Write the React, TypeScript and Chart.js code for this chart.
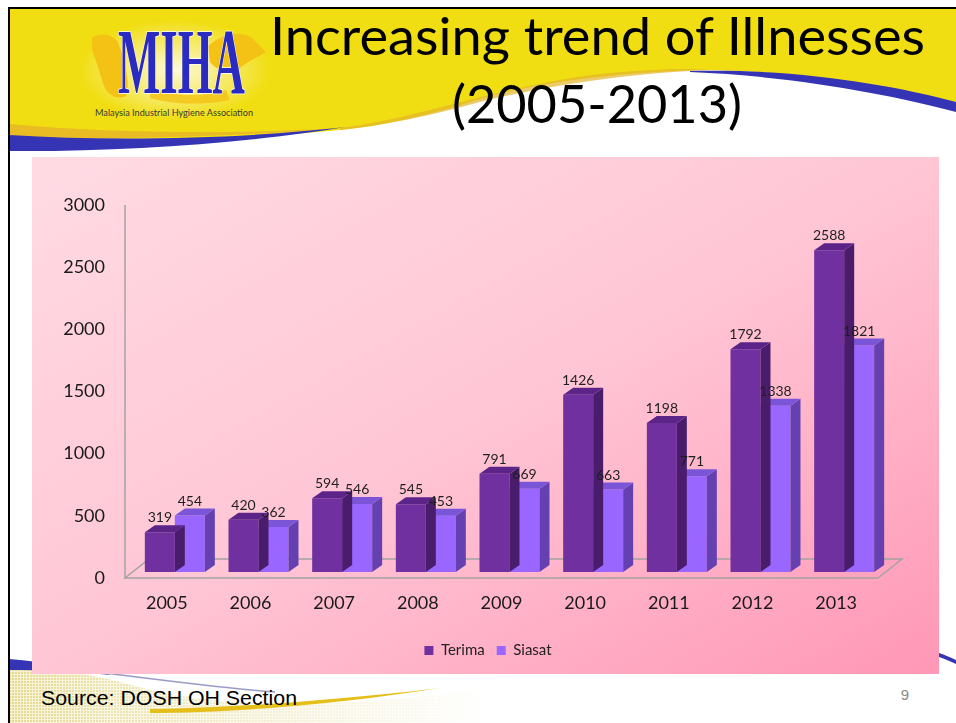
import React, { useEffect, useRef } from "react";
import { Chart, registerables } from "chart.js";

Chart.register(...registerables);

// ---- data ----
const years = ["2005", "2006", "2007", "2008", "2009", "2010", "2011", "2012", "2013"];
const terima = [319, 420, 594, 545, 791, 1426, 1198, 1792, 2588];
const siasat = [454, 362, 546, 453, 669, 663, 771, 1338, 1821];
const seriesNames = ["Terima", "Siasat"];
const yTicks = [0, 500, 1000, 1500, 2000, 2500, 3000];

const FACES = [
  { front: "#7030A0", side: "#4A1C6C", top: "#5C2488" },
  { front: "#9966FF", side: "#6440B0", top: "#7B55D8" },
];

const SHIFT_X = 8;
const SHIFT_Y = -6;
const DX = 10;
const DY = 7;
const FLOOR_DX = 24;
const FLOOR_DY = 19;
const LEGEND_SHIFT = 33;

const bar3d = {
  id: "bar3d",
  afterLayout(chart: any) {
    if (chart.legend) {
      chart.legend.left += LEGEND_SHIFT;
      chart.legend.right += LEGEND_SHIFT;
    }
  },
  beforeDatasetsDraw(chart: any) {
    const { ctx, chartArea: a } = chart;
    ctx.save();
    ctx.strokeStyle = "#A3A3A3";
    ctx.lineWidth = 1.5;
    ctx.beginPath();
    ctx.moveTo(a.left, a.top);
    ctx.lineTo(a.left, a.bottom);
    ctx.stroke();
    ctx.beginPath();
    ctx.moveTo(a.left, a.bottom);
    ctx.lineTo(a.right, a.bottom);
    ctx.lineTo(a.right + FLOOR_DX, a.bottom - FLOOR_DY);
    ctx.lineTo(a.left + FLOOR_DX, a.bottom - FLOOR_DY);
    ctx.closePath();
    ctx.stroke();
    ctx.restore();
  },
  beforeDatasetDraw(chart: any) {
    chart.ctx.save();
    chart.ctx.translate(SHIFT_X, SHIFT_Y);
  },
  afterDatasetDraw(chart: any, args: any) {
    const ctx = chart.ctx;
    const f = FACES[args.index];
    args.meta.data.forEach((el: any) => {
      const { x, y, base, width } = el.getProps(["x", "y", "base", "width"], true);
      const l = x - width / 2;
      const r = x + width / 2;
      ctx.fillStyle = f.side;
      ctx.beginPath();
      ctx.moveTo(r, y);
      ctx.lineTo(r + DX, y - DY);
      ctx.lineTo(r + DX, base - DY);
      ctx.lineTo(r, base);
      ctx.closePath();
      ctx.fill();
      ctx.fillStyle = f.top;
      ctx.beginPath();
      ctx.moveTo(l, y);
      ctx.lineTo(r, y);
      ctx.lineTo(r + DX, y - DY);
      ctx.lineTo(l + DX, y - DY);
      ctx.closePath();
      ctx.fill();
    });
    ctx.restore();
  },
  afterDatasetsDraw(chart: any) {
    const ctx = chart.ctx;
    ctx.save();
    ctx.font = "14px Lato";
    ctx.fillStyle = "#1f1f1f";
    ctx.textAlign = "center";
    ctx.textBaseline = "alphabetic";
    chart.data.datasets.forEach((ds: any, i: number) => {
      const meta = chart.getDatasetMeta(i);
      meta.data.forEach((el: any, j: number) => {
        const { x, y } = el.getProps(["x", "y"], true);
        ctx.fillText(String(ds.data[j]), x + SHIFT_X, y + SHIFT_Y - DY - 3);
      });
    });
    ctx.restore();
  },
};

function ChartCanvas() {
  const ref = useRef<HTMLCanvasElement>(null);
  useEffect(() => {
    const chart = new Chart(ref.current as HTMLCanvasElement, {
      type: "bar",
      data: {
        labels: years,
        datasets: [
          { label: seriesNames[0], data: terima, backgroundColor: FACES[0].front, borderWidth: 0, clip: false } as any,
          { label: seriesNames[1], data: siasat, backgroundColor: FACES[1].front, borderWidth: 0, clip: false } as any,
        ],
      },
      options: {
        responsive: false,
        animation: false,
        layout: { padding: { left: 0, top: 48, right: 61, bottom: 6 } },
        datasets: { bar: { categoryPercentage: 0.717, barPercentage: 1 } },
        plugins: {
          legend: {
            position: "bottom",
            labels: { boxWidth: 9, boxHeight: 9, font: { family: "Lato", size: 15 }, color: "#222", padding: 12 },
          },
          tooltip: { enabled: false },
        },
        scales: {
          x: {
            grid: { display: false, drawTicks: false },
            border: { display: false },
            ticks: { font: { family: "Lato", size: 18 }, color: "#1a1a1a", padding: 14 },
            afterFit(s: any) {
              s.height = 53;
            },
          },
          y: {
            min: 0,
            max: 3000,
            grid: { display: false, drawTicks: false },
            border: { display: false },
            ticks: {
              stepSize: 500,
              font: { family: "Lato", size: 18 },
              color: "#1a1a1a",
              padding: 20,
              callback: (v: any) => String(v),
            },
            afterBuildTicks(s: any) {
              s.ticks = yTicks.map((v) => ({ value: v }));
            },
            afterFit(s: any) {
              s.width = 93;
            },
          },
        },
      } as any,
      plugins: [bar3d],
    });
    return () => chart.destroy();
  }, []);
  return (
    <canvas
      ref={ref}
      width={907}
      height={517}
      style={{ position: "absolute", left: 32, top: 157, width: 907, height: 517 }}
    />
  );
}

export default function App() {
  return (
    <div style={{ position: "absolute", left: 0, top: 0, width: 956, height: 723, overflow: "hidden", background: "#fff" }}>
      <svg width={956} height={723} style={{ position: "absolute", left: 0, top: 0 }}>
        <defs>
          <pattern id="grid" width="3" height="3" patternUnits="userSpaceOnUse">
            <rect width="3" height="3" fill="#F6F2D4" />
            <rect width="2" height="2" fill="#E4D890" />
          </pattern>
          <linearGradient id="fadeR" x1="0" y1="0" x2="1" y2="0">
            <stop offset="0" stopColor="#fff" stopOpacity="0" />
            <stop offset="0.2" stopColor="#fff" stopOpacity="0.3" />
            <stop offset="1" stopColor="#fff" stopOpacity="1" />
          </linearGradient>
          <radialGradient id="glow" cx="0.5" cy="0.5" r="0.5">
            <stop offset="0" stopColor="#fff" stopOpacity="0.85" />
            <stop offset="1" stopColor="#fff" stopOpacity="0" />
          </radialGradient>
        </defs>
        {/* header */}
        <path
          d="M9,9 H956 V104 C880,86 790,70 700,70 C600,73 520,86 470,102 C420,118 380,126 340,130 C250,139 120,141 9,136 Z"
          fill="#F1DE12"
        />
        <path d="M9,124 C120,134 240,134 340,128 C250,136 120,140 9,138 Z" fill="#E6B626" opacity="0.85" />
        <path d="M340,128 C420,118 500,86 600,74 C650,69 690,68 710,70 C650,72 560,82 480,102 C430,116 380,126 340,130 Z" fill="#E3B52A" opacity="0.7" />
        <path d="M9,135 C120,142 250,138 345,127 C250,143 120,152 9,151 Z" fill="#3434B4" />
        <path d="M690,71 C790,68 890,84 956,102 V112 C890,94 790,76 690,72 Z" fill="#3434B4" />
        <ellipse cx="175" cy="70" rx="95" ry="50" fill="url(#glow)" />
        {/* logo map */}
        <path
          d="M92,38 C100,32 112,34 118,42 L124,60 C126,72 130,84 126,96 C118,100 108,96 104,86 C100,74 96,60 92,50 Z"
          fill="#F4C214"
        />
        <path
          d="M208,46 C222,34 240,30 252,38 C258,44 262,48 266,52 C256,58 246,62 238,70 C228,74 216,70 210,62 Z"
          fill="#F4C214"
        />
        <path d="M150,88 C170,96 200,98 226,90 L230,100 C200,106 170,104 150,98 Z" fill="#F4C214" opacity="0.8" />
        <text
          x={118}
          y={93}
          textLength={127}
          lengthAdjust="spacingAndGlyphs"
          fontFamily="Liberation Serif"
          fontWeight="bold"
          fontSize={94}
          fill="#2B2BC2"
          stroke="#fff"
          strokeWidth={1.5}
          paintOrder="stroke"
        >
          MIHA
        </text>
        <text x={95} y={116} textLength={158} lengthAdjust="spacingAndGlyphs" fontFamily="Lato" fontSize={8.5} fill="#3a3a3a">
          Malaysia Industrial Hygiene Association
        </text>
        {/* title */}
        <text x={270} y={55} textLength={655} lengthAdjust="spacingAndGlyphs" fontFamily="Lato" fontSize={52} fill="#000">
          Increasing trend of Illnesses
        </text>
        <text x={452} y={123} textLength={290} lengthAdjust="spacingAndGlyphs" fontFamily="Lato" fontSize={52} fill="#000">
          (2005-2013)
        </text>
        {/* bottom decorations */}
        <path d="M9,664 C60,668 100,676 150,690 C250,712 350,705 480,690 L480,723 L9,723 Z" fill="url(#grid)" />
        <rect x={9} y={660} width={480} height={63} fill="url(#fadeR)" />
        <path d="M9,659 C45,662 80,667 112,675 C80,672 45,670 9,670 Z" fill="#3434B4" />
        <path d="M105,673 C160,680 220,688 275,692" stroke="#9A9AC8" strokeWidth={1.5} fill="none" />
        <path d="M150,709 C230,708 340,700 440,688 C340,704 230,713 150,713 Z" fill="#E6BE1A" />
        <path d="M939,653 C945,655 950,657 956,660 V664 C950,661 945,659 939,657 Z" fill="#3434B4" />
        <text x={41} y={705} textLength={256} lengthAdjust="spacingAndGlyphs" fontFamily="Liberation Sans" fontSize={21} fill="#000">
          Source: DOSH OH Section
        </text>
        <text x={905} y={700} textAnchor="middle" fontFamily="Liberation Sans" fontSize={15} fill="#8a8a8a">
          9
        </text>
        {/* borders */}
        <rect x={8} y={7} width={2} height={716} fill="#000" />
        <rect x={8} y={7} width={948} height={2} fill="#000" />
      </svg>
      <div
        style={{
          position: "absolute",
          left: 32,
          top: 157,
          width: 907,
          height: 517,
          background: "linear-gradient(to bottom right, #FFDBE4 0%, #FFC6D5 50%, #FF97B6 100%)",
        }}
      />
      <ChartCanvas />
    </div>
  );
}
